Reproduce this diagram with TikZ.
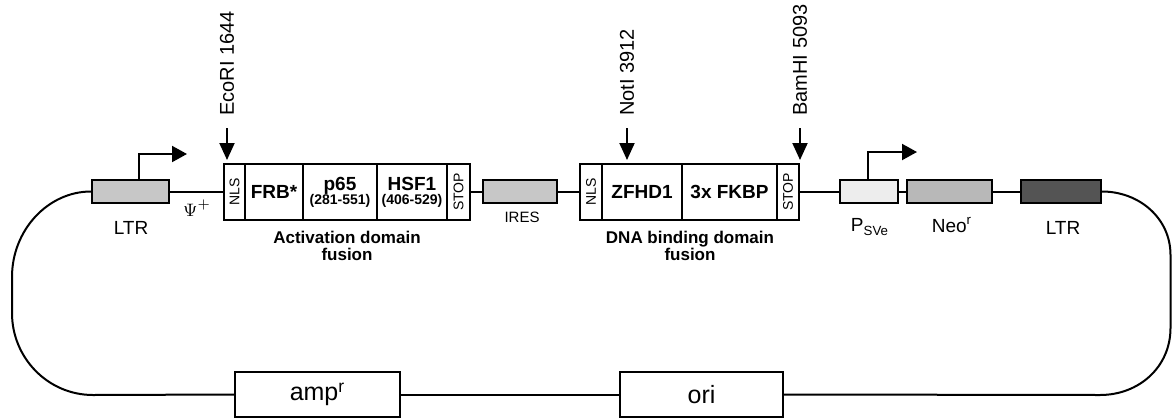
\documentclass[tikz,border=0pt]{standalone}
\usepackage{fontspec}
\setmainfont{Liberation Sans}
\usepackage{graphicx}
\usetikzlibrary{arrows.meta}

\tikzset{
  genebox/.style={draw, line width=1pt, inner sep=0pt, minimum height=28pt, align=center,
    font=\fontsize{9.5}{11}\selectfont\bfseries},
  tagbox/.style={draw, line width=1pt, inner sep=0pt, minimum height=28pt,
    font=\fontsize{7}{8}\selectfont},
  elembox/.style={draw, line width=1pt, inner sep=0pt, minimum height=11.5pt},
  markerbox/.style={draw, line width=1pt, inner sep=0pt, minimum height=22.5pt,
    font=\fontsize{12.5}{14}\selectfont},
  lbl/.style={inner sep=0pt, font=\fontsize{9.5}{11}\selectfont},
  fuslbl/.style={inner sep=0pt, align=center, font=\fontsize{8.5}{8.2}\selectfont\bfseries},
  sitelbl/.style={inner sep=0pt, rotate=90, anchor=west, font=\fontsize{10}{12}\selectfont},
  backbone/.style={line width=1pt},
  site/.style={line width=1pt, -{Triangle[width=7.5pt,length=8.5pt]}},
  promoter/.style={line width=1pt, -{Triangle[width=8pt,length=7.5pt]}},
}

\begin{document}
\begin{tikzpicture}[x=0.5pt, y=-0.5pt]
        \useasboundingbox (0,0) rectangle (1172,418);
        % activation domain fusion
        \node[tagbox, minimum width=10.5pt] (nlsA) at (234.5,192) {\rotatebox{90}{NLS}};
        \node[genebox, minimum width=29pt] (frb) at (274,192) {FRB*};
        \node[genebox, minimum width=37pt] (p65) at (340,192)
            {p65\\[-4pt]{\fontsize{7}{8}\selectfont (281-551)}};
        \node[genebox, minimum width=35pt] (hsf) at (412,192)
            {HSF1\\[-4pt]{\fontsize{7}{8}\selectfont (406-529)}};
        \node[tagbox, minimum width=11.5pt] (stopA) at (458.5,192) {\rotatebox{90}{STOP}};
        % DNA binding domain fusion
        \node[tagbox, minimum width=11pt] (nlsB) at (591,192) {\rotatebox{90}{NLS}};
        \node[genebox, minimum width=40pt] (zfhd) at (642,192) {ZFHD1};
        \node[genebox, minimum width=47.5pt] (fkbp) at (729.5,192) {3x FKBP};
        \node[tagbox, minimum width=11pt] (stopB) at (788,192) {\rotatebox{90}{STOP}};
        % other elements
        \node[elembox, fill=black!22, minimum width=38.5pt] (ltrA) at (130.5,191.5) {};
        \node[elembox, fill=black!22, minimum width=37pt] (ires) at (520,191.5) {};
        \node[elembox, fill=black!7, minimum width=29pt] (psv) at (869,191.5) {};
        \node[elembox, fill=black!28, minimum width=42.5pt] (neo) at (949.5,191.5) {};
        \node[elembox, fill=black!67, minimum width=40pt] (ltrB) at (1061,191.5) {};
        \node[markerbox, minimum width=82.5pt] (amp) at (317.5,394.5) {amp\textsuperscript{r}};
        \node[markerbox, minimum width=81.5pt] (ori) at (701.5,394.5) {ori};
        % labels
        \node[lbl] (ltrAlbl) at (131,228) {LTR};
        \node[inner sep=0pt, font=\fontsize{9.5}{11}\selectfont] (psi) at (197,208) {$\Psi^{+}$};
        \node[lbl, font=\fontsize{7.5}{9}\selectfont] (ireslbl) at (522,217) {IRES};
        \node[lbl] (psvlbl) at (870,227) {P\textsubscript{SVe}};
        \node[lbl] (neolbl) at (952,225) {Neo\textsuperscript{r}};
        \node[lbl] (ltrBlbl) at (1063,228) {LTR};
        \node[fuslbl] (actlbl) at (347,246) {Activation domain\\fusion};
        \node[fuslbl] (dnalbl) at (690,246) {DNA binding domain\\fusion};
        \node[sitelbl] (ecolbl) at (227,116) {EcoRI 1644};
        \node[sitelbl] (notlbl) at (627,116) {NotI 3912};
        \node[sitelbl] (bamlbl) at (800,116) {BamHI 5093};
        % restriction sites
        \draw[site] ([yshift=-6pt]ecolbl.west) -- ([yshift=1.5pt]ecolbl.west |- nlsA.north);
        \draw[site] ([yshift=-6pt]notlbl.west) -- ([yshift=1.5pt]notlbl.west |- zfhd.north);
        \draw[site] ([yshift=-6pt]bamlbl.west) -- ([yshift=1.5pt]bamlbl.west |- stopB.north);
        % promoters
        \draw[promoter] ([xshift=4.25pt]ltrA.north) -- ++(0,-25) -- ++(48,0);
        \draw[promoter] ([xshift=-0.5pt]psv.north) -- ++(0,-27) -- ++(49,0);
        % backbone
        \draw[backbone] (ltrA.east) -- (ltrA.east -| nlsA.west);
        \draw[backbone] (ires.west -| stopA.east) -- (ires.west);
        \draw[backbone] (ires.east) -- (ires.east -| nlsB.west);
        \draw[backbone] (psv.west -| stopB.east) -- (psv.west);
        \draw[backbone] (psv.east) -- (neo.west);
        \draw[backbone] (neo.east) -- (ltrB.west);
        \draw[backbone] (ltrA.west) .. controls (48,191.5) and (12,230) .. (12,277)
            -- (12,313) .. controls (12,358) and (48,395) .. (93,395) -- (amp.west);
        \draw[backbone] (amp.east) -- (ori.west);
        \draw[backbone] (ori.east) -- (1100,395) .. controls (1139,395) and (1170.5,367) .. (1170.5,328)
            -- (1170.5,255) .. controls (1170.5,218) and (1139,191.5) .. (ltrB.east);
\end{tikzpicture}
\end{document}
